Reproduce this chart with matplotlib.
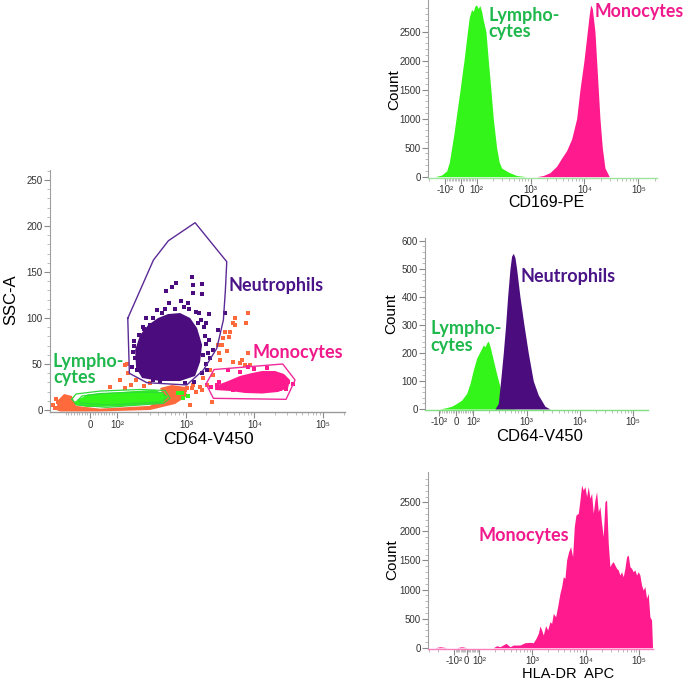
import numpy as np
import matplotlib
matplotlib.use("Agg")
import matplotlib.pyplot as plt

plt.rcParams['font.family'] = ['Liberation Sans', 'DejaVu Sans']

# ---------------- data: scatter (CD64-V450 vs SSC-A, SSC in thousands) -------------
neu_core_x = [183, 216, 283, 395, 552, 826, 1156, 1460, 1727, 1615, 1366, 826, 423, 231, 189]
neu_core_y = [65.2, 81.5, 92.4, 100, 104.3, 105.4, 100, 89, 70.7, 52.2, 37, 31.5, 31.5, 34.8, 45.7]
neu_pts_x = [1222, 1710, 1265, 722, 626, 512, 1710, 1265, 577, 854, 1091, 448, 1563, 2207, 3733,
             1974, 2983, 2207, 2472, 2258, 169, 183, 164, 194, 378, 302, 2022, 338,
             1900, 1800, 2000, 1500, 240, 260, 175, 1300, 980, 420, 700, 1750,
             1850, 1650, 1400, 1100, 950, 500, 330, 250, 205, 178, 2100, 1950]
neu_pts_y = [144.2, 137, 135.9, 137.7, 133.4, 129.7, 126, 126.8, 116, 118.5, 116, 105.8, 105.8, 104.3, 105.8,
             94.2, 87, 76, 65.2, 56.2, 63.4, 56.2, 47, 43.5, 108.7, 92.4, 43.5, 32.6,
             80, 60, 50, 95, 90, 100, 75, 30, 29, 30, 110, 40,
             90, 98, 106, 110, 112, 110, 100, 88, 82, 70, 62, 72]

mono_core_x = [2670, 4128, 6170, 9230, 12900, 19950, 26980, 32980, 30830, 22030, 12900, 7300, 4416, 2670]
mono_core_y = [26.1, 31.5, 37, 40.2, 42.4, 42.4, 39.1, 32.6, 23.9, 19.6, 17.9, 18.5, 20.7, 21.7]
mono_pts_x = [4087, 6170, 28840, 23590, 4930, 2827, 8150, 21130, 3000, 31000, 15000, 10000, 36000, 2300]
mono_pts_y = [43.5, 41.6, 23.2, 22.5, 21.7, 27.2, 47, 36.2, 30, 30, 46, 45, 28, 25]

lym_core_x = [-58, -8, 117, 357, 560, 448, 117, -8, -55]
lym_core_y = [9, 17, 19.6, 22, 14.5, 7.2, 4.2, 3.2, 5.8]
lym_pts_x = [780, 923, 1091, 875]
lym_pts_y = [18.2, 12.7, 15.2, 18.2]

ungated_band_x = [-126, -118, -96, -67, -52, 37, 302, 467, 423, 631, 977, 1045, 698, 302, 37, -110]
ungated_band_y = [0, 10.9, 17.4, 15.2, 4.5, 1.5, 4.5, 15.2, 23.9, 27.2, 25, 15.2, 6.5, 0, -1.6, -1.6]
ungated_pts_x = [8150, 7460, 5220, 4930, 4416, 3733, 4315, 3342, 3954, 3083, 4930, 6530, 7300, 8630,
                 2523, 2022, 1615, 1290, 1034, 1710, 1804, 8150, 6170, 2983, 977, 1156, 591, 138,
                 146, 111, 74, -111, -86, 660, 2390, 3527, 3157, 2258, 131, 5220, -131, -118,
                 189, 302, 423, 250, 160, 130, -140, -125, 1400, 1250]
ungated_pts_y = [105.8, 94.2, 99.7, 94.2, 85.1, 85.1, 79.7, 70.7, 64.5, 61.6, 52.5, 54.3, 48.9, 48.9,
                 38, 27.2, 25.3, 27.2, 23.6, 21.7, 34.5, 61.6, 50.8, 70.7, 21.7, 5.4, 10.9, 50,
                 39.9, 32.6, 25.3, 3.6, 7.3, 18.2, 9, 78, 54.3, 43.5, 48.9, 92.4, 2.2, 8.7,
                 32.6, 29.3, 34.8, 26, 27, 24, 5, 12, 20, 24]

neu_gate_x = [143, 151, 271, 1034, 1804, 2827, 3527, 3770, 3950, 1366, 558, 338, 143]
neu_gate_y = [99.7, 39.9, 29.7, 27.2, 43.5, 67, 97.8, 130, 161.2, 203.6, 184, 163, 99.7]
mono_gate_x = [1974, 2582, 25800, 39000, 28840, 2523, 1974]
mono_gate_y = [28.3, 44, 50, 32.6, 11.6, 12.7, 28.3]
lym_gate_x = [-68, -52, 37, 216, 500, 591, 472, 62, -49, -68]
lym_gate_y = [11.6, 17.4, 20.6, 22.3, 21.2, 12.7, 7.3, 2.9, 5.4, 11.6]
lym_gate2_x = [-44, -30, 37, 216, 467, 517, 423, 63, -37, -44]
lym_gate2_y = [10.9, 15.2, 17.9, 19.6, 19, 13, 8.7, 5.4, 7.6, 10.9]

# ---------------- data: histograms ----------------
cd169_lym_x = [-155, -117, -92, -75, -60, -45, -32, -19, -6, 6, 19, 30, 41, 53, 68, 79, 89, 100, 107, 115,
               124, 133, 149, 165, 184, 204, 235, 263, 291, 387, 552, 847]
cd169_lym_y = [0, 30, 100, 250, 500, 750, 1000, 1250, 1500, 1750, 2000, 2250, 2500, 2750, 2880, 2850, 2940,
               2960, 2900, 2950, 2850, 2700, 2500, 2000, 1500, 1000, 500, 250, 150, 80, 20, 0]
cd169_mono_x = [1297, 1726, 2296, 3050, 3777, 4674, 5794, 7166, 8263, 9800, 11300, 12300, 13030, 13990,
                15680, 16830, 18070, 19410, 21440, 24040, 28920]
cd169_mono_y = [0, 20, 70, 180, 320, 450, 650, 1000, 1500, 2000, 2500, 2800, 2960, 2900, 2500, 2000, 1500,
                1000, 500, 150, 0]

cd64_lym_x = [-92, -54, -25, 4, 33, 62, 81, 100, 115, 133, 154, 166, 178, 191, 205, 237, 274, 316, 365,
              422, 523, 649]
cd64_lym_y = [0, 5, 10, 20, 32, 56, 91, 139, 180, 204, 228, 222, 235, 242, 225, 175, 125, 80, 38, 14, 2, 0]
cd64_neu_x = [255, 294, 325, 365, 404, 440, 487, 523, 562, 604, 649, 750, 891, 1074, 1334, 1655, 2207, 2738]
cd64_neu_y = [0, 20, 100, 200, 300, 400, 500, 545, 555, 540, 500, 400, 300, 200, 100, 50, 10, 0]

hla_x = [-286, -230, -186, -139, -81, -41, 0, 186, 214, 248, 321, 381, 440, 587, 729, 904, 1044,
         1172, 1296, 1393, 1496, 1607, 1778, 1940, 2143, 2305, 2477, 2740, 2985, 3300, 3548, 3811, 4097,
         4404, 4800, 5236, 5702, 6131, 6590, 7290, 7834, 8420, 9040, 9720, 10440, 11220, 12060, 12960,
         13930, 14960, 16080, 17280, 18570, 19950, 21440, 23040, 24760, 26610, 28600, 30730, 33030,
         35480, 38130, 41000, 44040, 47320, 50850, 54650, 58720, 63100, 67800, 72860, 78300, 84140,
         90400, 97150, 104400, 112200, 120600, 129600, 139300, 149600, 160800, 172800, 180300]
hla_y = [0, 0, 17, 0, 0, 17, 0, 0, 34, 17, 75, 17, 46, 46, 86, 92, 86, 160, 247, 373, 304, 218, 380, 304,
         447, 418, 590, 533, 705, 935, 1050, 1220, 1193, 1508, 1650, 1737, 1565, 2080, 2282, 2310, 2540,
         2798, 2712, 2770, 2600, 2770, 2570, 2655, 2310, 2540, 2684, 2340, 2425, 2140, 1910, 2510, 2540,
         1795, 1393, 1450, 1480, 1420, 1365, 1336, 1250, 1307, 1220, 1365, 1565, 1594, 1393, 1365, 1307,
         1336, 1250, 1307, 1250, 1078, 992, 1050, 850, 935, 533, 476, 0]

# ---------------- colours ----------------
C_NEU = '#4B0C7E'
C_MONO = '#FF1A8E'
C_LYM = '#33F51A'
C_ORANGE = '#FF6A3D'
T_NEU = '#4A1488'
T_MONO = '#F01A8C'
T_LYM = '#1FB84C'

W, H = 685, 683
fig = plt.figure(figsize=(W / 100, H / 100), dpi=100)

SUP = {2: '\u00b2', 3: '\u00b3', 4: '\u2074', 5: '\u2075'}


def px_axes(l, t, r, b):
    return fig.add_axes([l / W, 1 - b / H, (r - l) / W, (b - t) / H])


def dec_label(v):
    if v == 0:
        return '0'
    e = int(round(np.log10(abs(v))))
    s = '10' + SUP[e]
    return ('-' + s) if v < 0 else s


def style(ax, linscale, xlim, ylim, ymaj, ymin_step, neg=True, bottom_color='#9a9a9a'):
    ax.set_xscale('symlog', linthresh=100, linscale=linscale)
    ax.set_xlim(*xlim)
    ax.set_ylim(*ylim)
    for s in ['top', 'right']:
        ax.spines[s].set_visible(False)
    ax.spines['left'].set_color('#a0a0a0')
    ax.spines['bottom'].set_color(bottom_color)
    ax.spines['left'].set_linewidth(0.8)
    ax.spines['bottom'].set_linewidth(1.0)
    major = [-100, 0, 100, 1e3, 1e4, 1e5] if neg else [0, 100, 1e3, 1e4, 1e5]
    ax.set_xticks(major, labels=[dec_label(v) for v in major])
    minor = [v for v in range(-90, 100, 10) if v != 0]
    minor += [-m * 100 for m in range(2, 10) if -m * 100 >= xlim[0]]
    minor += [m * 10 ** k for k in range(2, 6) for m in range(2, 10) if m * 10 ** k <= xlim[1]]
    ax.set_xticks(minor, minor=True)
    ax.set_yticks(ymaj)
    ax.set_yticks(np.arange(0, ymaj[-1] + ymin_step * 5, ymin_step), minor=True)
    ax.set_ylim(*ylim)
    ax.tick_params(which='major', length=4, width=0.8, color='#8a8a8a', labelsize=7,
                   labelcolor='#333333', pad=1.2)
    ax.tick_params(which='minor', length=2, width=0.6, color='#b0b0b0')
    ax.patch.set_alpha(0)


def labels(ax, xl, xsize, xc, xtop, ylab, ysize, yx, yy):
    ax.set_xlabel(xl, fontsize=xsize, va='top', ha='center')
    ax.xaxis.set_label_coords(xc, xtop)
    ax.set_ylabel(ylab, fontsize=ysize, va='center', ha='center')
    ax.yaxis.set_label_coords(yx, yy)


# ---------------- scatter ----------------
ax = px_axes(50, 170, 345, 412.3)
style(ax, 0.354, (-155, 208000), (-2.5, 260.9), [0, 50, 100, 150, 200, 250], 10, neg=False)
ax.fill(ungated_band_x, ungated_band_y, color=C_ORANGE, lw=0, zorder=2)
ax.scatter(ungated_pts_x, ungated_pts_y, s=5, marker='s', color=C_ORANGE, lw=0, zorder=2)
ax.fill(lym_core_x, lym_core_y, color=C_LYM, lw=0, zorder=3)
ax.scatter(lym_pts_x, lym_pts_y, s=5, marker='s', color=C_LYM, lw=0, zorder=3)
ax.fill(neu_core_x, neu_core_y, color=C_NEU, lw=0, zorder=3)
ax.scatter(neu_pts_x, neu_pts_y, s=5, marker='s', color=C_NEU, lw=0, zorder=3)
ax.fill(mono_core_x, mono_core_y, color=C_MONO, lw=0, zorder=3)
ax.scatter(mono_pts_x, mono_pts_y, s=5, marker='s', color=C_MONO, lw=0, zorder=3)
ax.plot(neu_gate_x, neu_gate_y, color='#5B2A96', lw=1.0, zorder=4)
ax.plot(mono_gate_x, mono_gate_y, color='#F02A9B', lw=1.0, zorder=4)
ax.plot(lym_gate_x, lym_gate_y, color='#2FD83A', lw=0.9, zorder=4)
ax.plot(lym_gate2_x, lym_gate2_y, color='#2FD83A', lw=0.9, zorder=4)
labels(ax, 'CD64-V450', 12.5, 0.536, -0.083, 'SSC-A', 12, -0.132, 0.463)

# ---------------- histogram: CD169-PE ----------------
ax1 = px_axes(428.3, 0, 656.7, 177.5)
style(ax1, 0.26, (-208, 219000), (-14, 3046), [0, 500, 1000, 1500, 2000, 2500], 100,
      bottom_color='#9ee39e')
ax1.fill_between(cd169_lym_x, cd169_lym_y, 0, color=C_LYM, lw=0)
ax1.fill_between(cd169_mono_x, cd169_mono_y, 0, color=C_MONO, lw=0)
labels(ax1, 'CD169-PE', 11.5, 0.518, -0.1, 'Count', 11, -0.150, 0.493)

# ---------------- histogram: CD64-V450 ----------------
ax2 = px_axes(425, 238.3, 648.3, 410)
style(ax2, 0.292, (-181, 192000), (-3.6, 608.6), [0, 100, 200, 300, 400, 500, 600], 20,
      bottom_color='#7fe07f')
ax2.fill_between(cd64_lym_x, cd64_lym_y, 0, color=C_LYM, lw=0)
ax2.fill_between(cd64_neu_x, cd64_neu_y, 0, color=C_NEU, lw=0)
labels(ax2, 'CD64-V450', 12, 0.515, -0.112, 'Count', 11, -0.149, 0.563)

# ---------------- histogram: HLA-DR APC ----------------
ax3 = px_axes(428, 471.7, 653, 648.7)
style(ax3, 0.208, (-313, 184000), (-17, 3027), [0, 500, 1000, 1500, 2000, 2500], 100,
      bottom_color='#f77fbf')
ax3.fill_between(hla_x, hla_y, 0, color=C_MONO, lw=0)
labels(ax3, 'HLA-DR  APC', 10.5, 0.622, -0.1006, 'Count', 11, -0.157, 0.501)

# ---------------- annotations ----------------
def note(x, y, s, c, size=13):
    fig.text(x / W, 1 - y / H, s, color=c, fontsize=size, fontweight='bold',
             family=['Lato', 'DejaVu Sans'], ha='left', va='center', linespacing=0.93)

note(229, 285, 'Neutrophils', T_NEU)
note(253, 352.7, 'Monocytes', T_MONO)
note(53, 369.5, 'Lympho-\ncytes', T_LYM)
note(488, 23.5, 'Lympho-\ncytes', T_LYM)
note(595, 11.7, 'Monocytes', T_MONO, 12.8)
note(520, 276.7, 'Neutrophils', T_NEU)
note(430, 337, 'Lympho-\ncytes', T_LYM)
note(479, 536, 'Monocytes', T_MONO)

fig.savefig('out.png', dpi=100)
